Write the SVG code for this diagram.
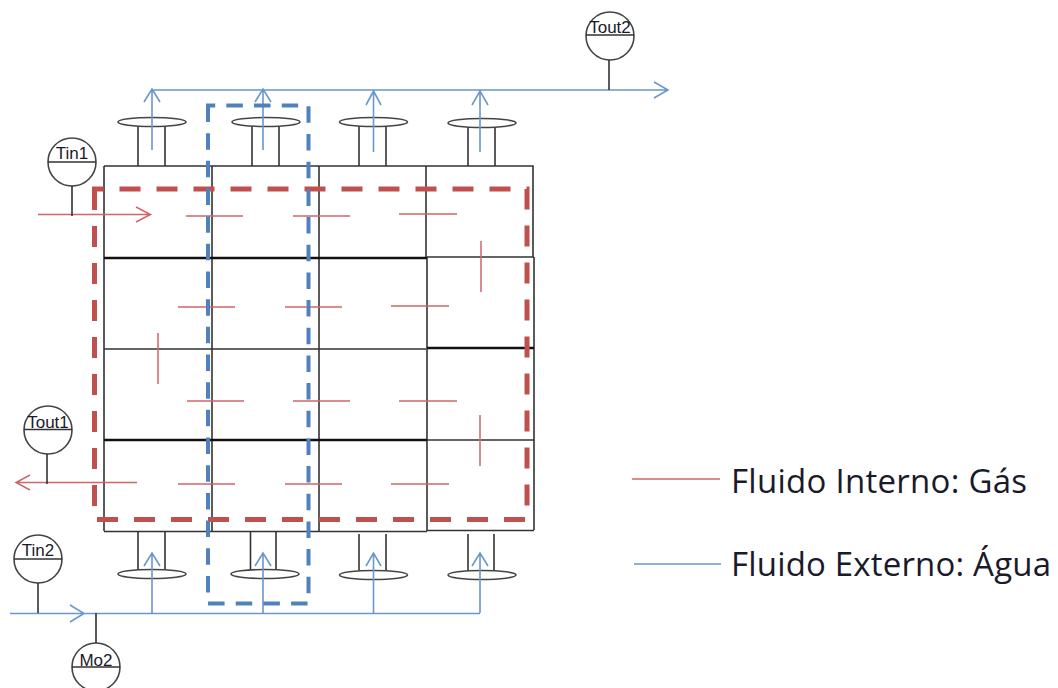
<svg xmlns="http://www.w3.org/2000/svg" width="1058" height="688" viewBox="0 0 1058 688">
<style>
.k{fill:none;stroke:#333;stroke-width:1.6}
.h{fill:none;stroke:#111;stroke-width:2.4}
.e{fill:#fff;stroke:#444;stroke-width:1.6}
.r{fill:none;stroke:#d0666a;stroke-width:1.5}
.b{fill:none;stroke:#6a97cc;stroke-width:1.6}
.t{font-family:"Liberation Sans",Arial,sans-serif;font-size:17px;fill:#1a1a2a;text-anchor:middle}
.l{font-family:"Open Sans",sans-serif;font-size:33px;fill:#1a1a2a}
</style>
<rect width="1058" height="688" fill="#fff"/>
<g id="exchanger">
<path class="k" d="M104 166H426M426 166H533V257M104 166V531M212 166V531M319 166V531M426 166V257M427 257V531M534 257V530M427 257H534M104 349H426M427 440H534M104 531.500H427M427 530.500H534"/>
<path class="h" d="M104 258H427M427 348H534M104 440H427"/>
</g>
<g id="nozzles">
<path class="k" d="M138 126V166M165 126V166M252 126V166M279 126V166M359 126V166M386 126V166M468 127V166M495 127V166"/>
<path class="k" d="M138 532V570M165 532V570M250.500 532V570M276 532V570M359 534V571M386 534V571M468 534V571M494 534V571"/>
<ellipse class="e" cx="152" cy="122" rx="34" ry="4.500"/>
<ellipse class="e" cx="266" cy="122" rx="34" ry="4.500"/>
<ellipse class="e" cx="373.500" cy="122" rx="34" ry="4.500"/>
<ellipse class="e" cx="482" cy="123" rx="34" ry="4.500"/>
<ellipse class="e" cx="152" cy="574" rx="34" ry="4.500"/>
<ellipse class="e" cx="265" cy="574" rx="34" ry="4.500"/>
<ellipse class="e" cx="373.500" cy="575" rx="34" ry="4.500"/>
<ellipse class="e" cx="482" cy="575" rx="34" ry="4.500"/>
</g>
<g id="connectors">
<path class="r" d="M38 214.500H150M136 207L150.500 214.500L136 222"/>
<path class="r" d="M137 482.500H16M30 475L16 482.500L30 490"/>
<path class="r" d="M186 216H243M293 216H350M399 214H457M178 307H235M285 307H342M391 306H449M187 401H244M293 401H350M399 401H457M178 484H235M285 484H342M391 484H449M158 333V384M481 241V292M480 415V466"/>
<path class="b" d="M152 90H668M654 82L668 90L654 98"/>
<path class="b" d="M152 150V90M144 102L152 89L160 102M263 150V90M255 102L263 89L271 102M373.500 152V90M366 105L373.500 91L381 105M480 152V90M472 105L480 91L488 105"/>
<path class="b" d="M10 613.500H480M70 605L84 613.500L70 622"/>
<path class="b" d="M152 613V553M144 566L152 553L160 566M263 613V553M255 566L263 553L271 566M373.500 613V553M366 566L373.500 553L381 566M480 613V553M472 566L480 553L488 566"/>
<path d="M94.500 189V519.500H527V189Z" fill="none" stroke="#c0504d" stroke-width="5" stroke-dasharray="21 16"/>
<path d="M208 105.500V603.500H308.500V105.500Z" fill="none" stroke="#4f81bd" stroke-width="4" stroke-dasharray="16.500 11.170"/>
</g>
<g id="Tout2"><circle class="e" cx="610" cy="36" r="24"/><path class="k" d="M586 35H634M609 60V90"/><text class="t" x="610" y="33">Tout2</text></g>
<g id="Tin1"><circle class="e" cx="72" cy="162" r="24"/><path class="k" d="M48 162H96M72 186V216"/><text class="t" x="72" y="159">Tin1</text></g>
<g id="Tout1"><circle class="e" cx="48" cy="430" r="24"/><path class="k" d="M24 429.500H72M47 454V484"/><text class="t" x="48" y="428">Tout1</text></g>
<g id="Tin2"><circle class="e" cx="38" cy="559" r="24"/><path class="k" d="M14 559H62M38 583V613"/><text class="t" x="38" y="556">Tin2</text></g>
<g id="Mo2"><circle class="e" cx="96" cy="667" r="24"/><path class="k" d="M72 667H120M96 613V643"/><text class="t" x="96" y="666">Mo2</text></g>
<g id="legend">
<path class="r" d="M632 479H720" stroke-width="2"/>
<path class="b" d="M634 564H721"/>
<text class="l" x="731" y="493" textLength="296">Fluido Interno: Gás</text>
<text class="l" x="731" y="576" textLength="320">Fluido Externo: Água</text>
</g>
</svg>
